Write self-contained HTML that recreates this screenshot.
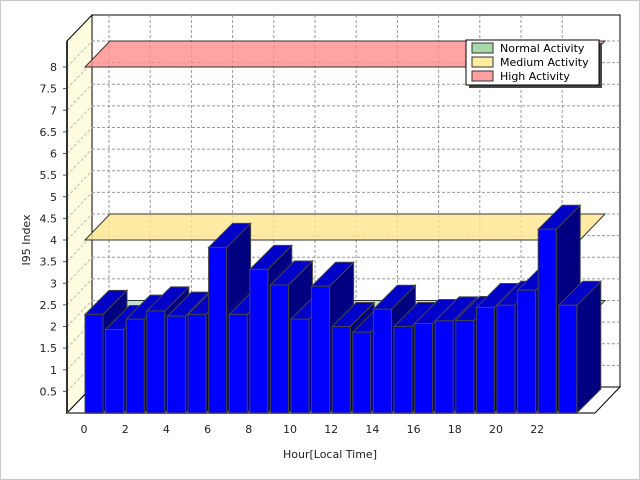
<!DOCTYPE html>
<html><head><meta charset="utf-8"><style>
body{margin:0;background:#fff}
svg{display:block;font-family:"DejaVu Sans","Liberation Sans",sans-serif}
</style></head><body>
<svg id="c" width="640" height="480" viewBox="0 0 640 480">
<rect x="0.5" y="0.5" width="639" height="479" fill="#fff" stroke="#c8c8c8"/>
<text x="318" y="31" font-size="11" fill="#1a1a6e" text-anchor="middle">Ionospheric Index I95 rtxSEWA</text>
<text transform="translate(30,240) rotate(-90)" font-size="11" text-anchor="middle" fill="#222">I95 Index</text>
<text x="330" y="458" font-size="11" text-anchor="middle" fill="#222">Hour[Local Time]</text>
<g id="g"></g>
<g>
<rect x="469" y="43" width="133" height="45" fill="#444"/>
<rect x="466" y="40" width="133" height="45" fill="#fff" stroke="#000"/>
<g><rect x="472" y="43" width="21" height="10" fill="#a8d8a8" stroke="#333"/><text x="500" y="52" font-size="11">Normal Activity</text></g>
<g><rect x="472" y="57" width="21" height="10" fill="#ffeea0" stroke="#333"/><text x="500" y="66" font-size="11">Medium Activity</text></g>
<g><rect x="472" y="71" width="21" height="10" fill="#ffa0a0" stroke="#333"/><text x="500" y="80" font-size="11">High Activity</text></g>
</g>
</svg>
<script>
const hours=[0,1,2,3,4,5,6,7,8,9,10,11,12,13,14,15,16,17,18,19,20,21,22,23];
const values=[2.28,1.93,2.17,2.36,2.24,2.28,3.83,2.28,3.32,2.96,2.17,2.93,2.00,1.87,2.40,2.00,2.07,2.13,2.14,2.44,2.49,2.84,4.25,2.49];
const yTicks=[0.5,1,1.5,2,2.5,3,3.5,4,4.5,5,5.5,6,6.5,7,7.5,8];
const xTickLabels=[0,2,4,6,8,10,12,14,16,18,20,22];
const bandLevels=[2,4,8];
const bandColors=["rgba(120,190,140,0.45)","rgba(255,230,140,0.8)","rgba(255,140,140,0.8)"];
const bandNames=["normal-band","medium-band","high-band"];
const NS="http://www.w3.org/2000/svg";
const g=document.getElementById('g');
const X0=67,Y0=413,DX=25,DY=-26,K=43.25,XR=595;
const yS=v=>Y0-v*K;
const xS=i=>85+i*20.6;
function el(t,a){const e=document.createElementNS(NS,t);for(const k in a)e.setAttribute(k,a[k]);g.appendChild(e);return e;}
// back wall
let e=el('rect',{x:X0+DX,y:yS(8)+DY-26,width:XR-X0,height:8*K+26,fill:'#fff',stroke:'#000'});


// left wall
e=el('polygon',{points:`${X0},${Y0} ${X0+DX},${Y0+DY} ${X0+DX},${yS(8)+DY-26} ${X0},${yS(8)-26}`,fill:'#fffde0',stroke:'#000'});


// floor
e=el('polygon',{points:`${X0},${Y0} ${XR},${Y0} ${XR+DX},${Y0+DY} ${X0+DX},${Y0+DY}`,fill:'#fff',stroke:'#000'});


yTicks.forEach(v=>{
  const y=yS(v);
  let l=el('line',{x1:X0+DX,x2:XR+DX,y1:y+DY,y2:y+DY,stroke:'#999','stroke-dasharray':'3,2'});
  
  
  l=el('line',{x1:X0,x2:X0+DX,y1:y,y2:y+DY,stroke:'#bbb','stroke-dasharray':'3,2'});
  
  
  l=el('line',{x1:X0-4,x2:X0,y1:y,y2:y,stroke:'#555'});
  
  
  const t=el('text',{x:X0-10,y:y+4,'font-size':11,'text-anchor':'end',fill:'#222'});
  t.textContent=v;
  
  
});
xTickLabels.forEach(h=>{
  const x=xS(h)-1+DX;
  let l=el('line',{x1:x,x2:x,y1:yS(8)+DY-26,y2:Y0+DY,stroke:'#999','stroke-dasharray':'3,2'});
  
  
  const t=el('text',{x:xS(h)-1,y:Y0+20,'font-size':11,'text-anchor':'middle',fill:'#222'});
  t.textContent=h;
  
  
});
el('line',{x1:X0,x2:X0,y1:Y0,y2:yS(8)-26,stroke:'#333','stroke-width':2});
el('line',{x1:X0,x2:XR,y1:Y0,y2:Y0,stroke:'#777','stroke-width':2});
function band(i){
  const y=yS(bandLevels[i]);
  const p=el('polygon',{points:`85,${y} 580,${y} ${580+DX},${y+DY} ${85+DX},${y+DY}`,fill:bandColors[i],stroke:'#333'});
  
  
}
band(2);band(1);band(0);
hours.forEach((h,i)=>{
  const x=xS(i),w=18,y=yS(values[i]),d=24;
  const s=el('polygon',{points:`${x+w},${Y0} ${x+w+d},${Y0-d} ${x+w+d},${y-d} ${x+w},${y}`,fill:'#000080',stroke:'#444'});
  
  
  const t=el('polygon',{points:`${x},${y} ${x+w},${y} ${x+w+d},${y-d} ${x+d},${y-d}`,fill:'#0000c8',stroke:'#444'});
  
  
  const f=el('rect',{x:x,y:y,width:w,height:Y0-y,fill:'#0000ff',stroke:'#444'});
  
  
});
</script>
</body></html>
